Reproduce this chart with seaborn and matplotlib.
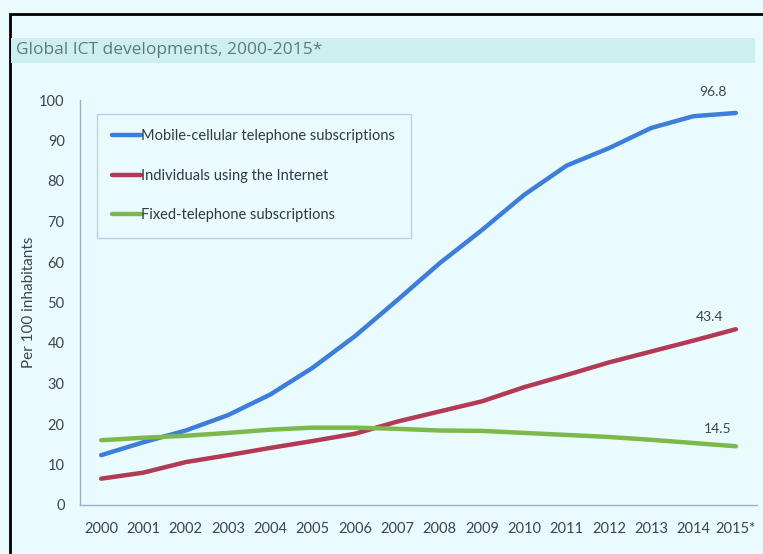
import matplotlib
matplotlib.use("Agg")
import matplotlib.pyplot as plt
from matplotlib.patches import Rectangle
import seaborn as sns
import pandas as pd

years = ["2000", "2001", "2002", "2003", "2004", "2005", "2006", "2007",
         "2008", "2009", "2010", "2011", "2012", "2013", "2014", "2015*"]
mobile = [12.3, 15.5, 18.4, 22.2, 27.3, 33.9, 41.7, 50.6, 59.7, 67.9, 76.6, 83.8, 88.1, 93.1, 96.0, 96.8]
internet = [6.5, 8.0, 10.6, 12.3, 14.1, 15.8, 17.6, 20.6, 23.1, 25.6, 29.1, 32.1, 35.2, 37.9, 40.6, 43.4]
fixed = [16.0, 16.6, 17.1, 17.8, 18.6, 19.1, 19.1, 18.8, 18.4, 18.3, 17.8, 17.3, 16.8, 16.1, 15.3, 14.5]
series_names = ["Mobile-cellular telephone subscriptions",
                "Individuals using the Internet",
                "Fixed-telephone subscriptions"]
colors = ["#3d7ddb", "#b23a55", "#7cb84a"]

rows = []
for name, vals in zip(series_names, [mobile, internet, fixed]):
    for i, (y, v) in enumerate(zip(years, vals)):
        rows.append({"idx": i, "year": y, "value": v, "series": name})
df = pd.DataFrame(rows)

sns.set_theme(style="white")
plt.rcParams["font.family"] = ["Lato", "DejaVu Sans"]

bg = "#eafbfd"
txt = "#3b4650"
fig = plt.figure(figsize=(7.63, 5.54), dpi=100)
fig.patch.set_facecolor(bg)

# outer frame and title band
fig.patches.append(Rectangle((10/763, -0.1), 1.2, 1.1 - 14/554, transform=fig.transFigure,
                             fill=False, edgecolor="black", linewidth=2.0, zorder=0))
fig.patches.append(Rectangle((11/763, 1 - 63/554), (755 - 11)/763, 25/554,
                             transform=fig.transFigure, facecolor="#cdeff0",
                             edgecolor="none", zorder=0))
fig.text(16/763, 1 - 50/554, "Global ICT developments, 2000-2015*", fontsize=12.5,
         color="#5f7a7c", va="center", ha="left", family=["Open Sans", "DejaVu Sans"])

ax = fig.add_axes([80/763, 1 - 505/554, (757 - 80)/763, (505 - 100)/554])
ax.set_facecolor(bg)
sns.lineplot(data=df, x="idx", y="value", hue="series", hue_order=series_names,
             palette=colors, linewidth=3.2, ax=ax, legend=True)

ax.set_xlim(-0.5, len(years) - 0.5)
ax.set_ylim(0, 100)
ax.set_yticks(range(0, 101, 10))
ax.set_xticks(range(len(years)))
ax.set_xticklabels(years)
ax.set_xticks([i - 0.5 for i in range(len(years) + 1)], minor=True)
ax.tick_params(axis="x", which="major", length=0, pad=12, labelsize=10.5, labelcolor=txt)
ax.tick_params(axis="x", which="minor", length=5, color="#9fb0c4", direction="in")
ax.tick_params(axis="y", length=5, color="#9fb0c4", labelsize=10.5, labelcolor=txt, pad=6)
for s in ["top", "right"]:
    ax.spines[s].set_visible(False)
for s in ["left", "bottom"]:
    ax.spines[s].set_color("#9fb0c4")
    ax.spines[s].set_linewidth(1.0)
ax.set_xlabel("")
ax.set_ylabel("Per 100 inhabitants", fontsize=11, color=txt)
ax.yaxis.set_label_coords(-44/677, 0.5)

# end labels
for vals, xi, dy in [(mobile, 14.46, 5.2), (internet, 14.39, 3.0), (fixed, 14.56, 4.2)]:
    ax.text(xi, vals[-1] + dy, f"{vals[-1]:.1f}", fontsize=10, color=txt,
            ha="center", va="center")

leg = ax.legend(loc="upper left", bbox_to_anchor=(17/677, 1 - 14/405), frameon=True,
                fontsize=10.5, handlelength=2.0, handletextpad=0.0, labelspacing=1.75,
                borderpad=1.05, borderaxespad=0)
leg.get_frame().set_edgecolor("#a8c8e8")
leg.get_frame().set_facecolor(bg)
leg.get_frame().set_linewidth(1.0)
leg.get_frame().set_boxstyle("square", pad=0)
for t in leg.get_texts():
    t.set_color("#2f3a44")
for h in leg.get_lines():
    h.set_linewidth(3.2)

fig.savefig("out.png", dpi=100, facecolor=bg)
